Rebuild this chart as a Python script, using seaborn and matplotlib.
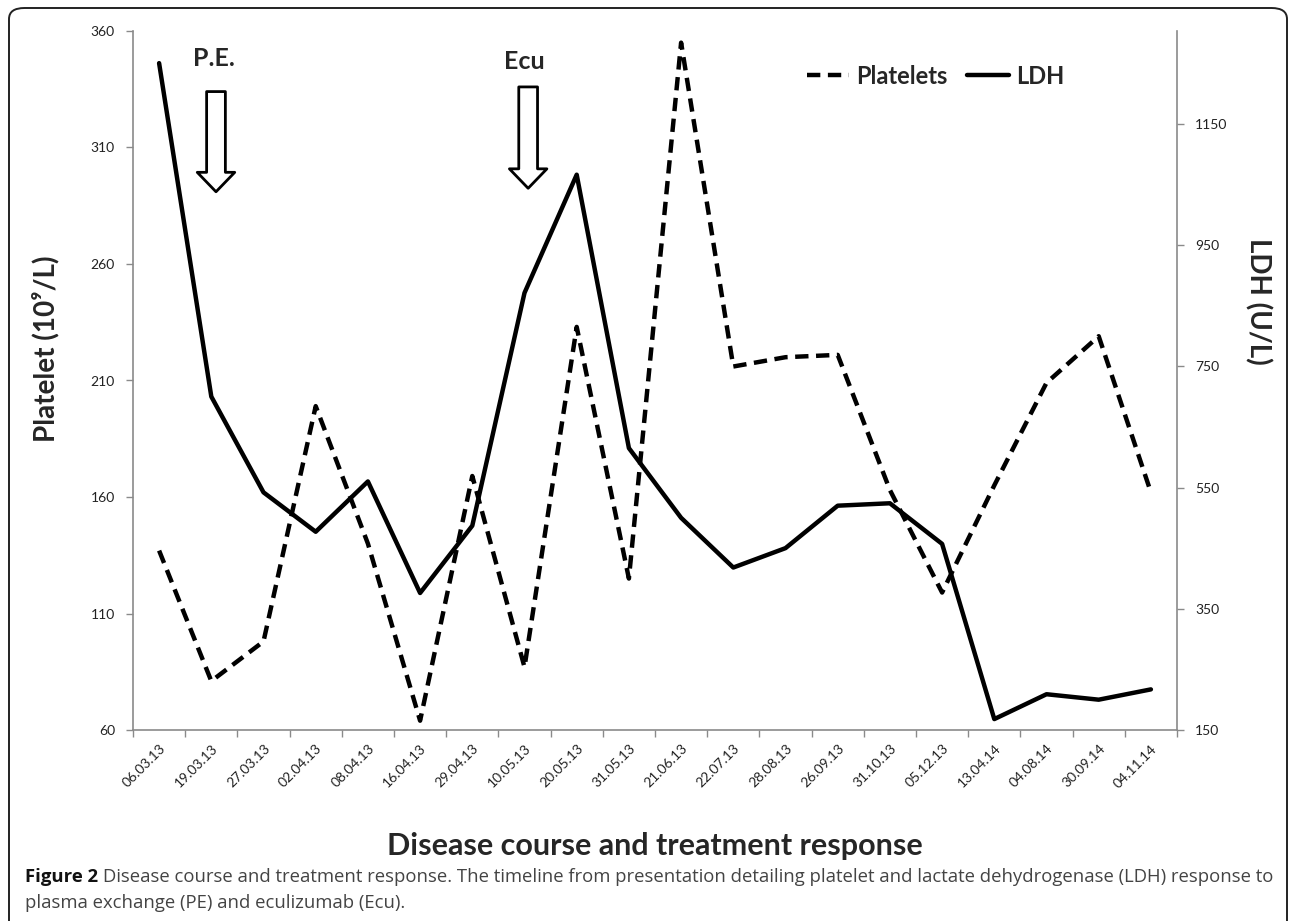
import numpy as np
import pandas as pd
import matplotlib
matplotlib.use('Agg')
import matplotlib.pyplot as plt
from matplotlib.patches import FancyBboxPatch
from matplotlib.lines import Line2D
import seaborn as sns

# data
dates = ['06.03.13', '19.03.13', '27.03.13', '02.04.13', '08.04.13', '16.04.13',
         '29.04.13', '10.05.13', '20.05.13', '31.05.13', '21.06.13', '22.07.13',
         '28.08.13', '26.09.13', '31.10.13', '05.12.13', '13.04.14', '04.08.14',
         '30.09.14', '04.11.14']
platelets = [137, 81, 98, 199, 140, 64, 169, 87, 233, 125, 355, 216,
             220, 221, 163, 119, 165, 209, 229, 162]
ldh = [1250, 700, 542, 477, 560, 376, 487, 871, 1066, 615, 500, 418,
       450, 520, 524, 457, 168, 209, 200, 217]

left_ticks = [60, 110, 160, 210, 260, 310, 360]
right_ticks = [150, 350, 550, 750, 950, 1150]

df = pd.DataFrame({'pos': np.arange(len(dates)), 'date': dates,
                   'Platelets': platelets, 'LDH': ldh})

sns.set_style('ticks')
plt.rcParams['font.family'] = ['Lato', 'DejaVu Sans']

W, H = 1292, 921
fig = plt.figure(figsize=(W / 100, H / 100), dpi=100)
ax = fig.add_axes([133 / W, 1 - 730 / H, (1177 - 133) / W, (730 - 31) / H])
ax2 = ax.twinx()

dash = (0, (3.0, 1.7))
sns.lineplot(data=df, x='pos', y='Platelets', ax=ax, color='black', lw=3.2,
             linestyle=dash, dash_capstyle='butt')
sns.lineplot(data=df, x='pos', y='LDH', ax=ax2, color='black', lw=3.2)

spine_col = '#8a8a8a'
ax.set_xlim(-0.5, len(dates) - 0.5)
ax.set_ylim(60, 360)
ax2.set_ylim(150, 1303)
ax.set_yticks(left_ticks)
ax2.set_yticks(right_ticks)

# category boundaries as major ticks, labels on minor ticks
ax.set_xticks(np.arange(-0.5, len(dates), 1.0))
ax.set_xticklabels([])
ax.set_xticks(np.arange(len(dates)), minor=True)
ax.set_xticklabels(dates, minor=True, rotation=45, ha='right', va='top',
                   rotation_mode='anchor', fontsize=10, color='#222222')
ax.tick_params(axis='x', which='minor', length=0, pad=9)
ax.tick_params(axis='x', which='major', length=5, color=spine_col, width=1)
ax.tick_params(axis='y', length=5, color=spine_col, width=1, labelsize=10,
               labelcolor='#222222', pad=8)
ax2.tick_params(axis='y', length=5, color=spine_col, width=1, labelsize=10,
                labelcolor='#222222', pad=8)

for a in (ax, ax2):
    a.spines['top'].set_visible(False)
    for s in ('left', 'right', 'bottom'):
        a.spines[s].set_color(spine_col)
        a.spines[s].set_linewidth(1.2)
ax.spines['right'].set_visible(False)
ax2.spines['left'].set_visible(False)
ax2.spines['bottom'].set_visible(False)

ax.set_xlabel('Disease course and treatment response', fontsize=22, fontweight='bold')
ax.xaxis.label.set_va('center')
ax.xaxis.set_label_coords(0.5, (730 - 846) / 699)
ax.set_ylabel('Platelet (10\u2079/L)', fontsize=20, fontweight='bold')
ax.yaxis.set_label_coords((46 - 133) / 1044, (730 - 349) / 699)
ax.yaxis.label.set_va('center')
ax2.set_ylabel('LDH (U/L)', fontsize=20, fontweight='bold', rotation=-90)
ax2.yaxis.set_label_coords((1258 - 133) / 1044, (730 - 301) / 699)
ax2.yaxis.label.set_va('center')

# treatment arrows
arrow_kw = dict(arrowstyle='simple,head_length=1.4,head_width=2.7,tail_width=1.35',
                fc='white', ec='black', lw=2, shrinkA=0, shrinkB=0,
                mutation_scale=10)
ax.annotate('', xy=(1.09, 291), xytext=(1.09, 334), arrowprops=arrow_kw)
ax.annotate('', xy=(7.07, 292.5), xytext=(7.07, 336), arrowprops=arrow_kw)
ax.text(1.05, 348, 'P.E.', fontsize=18, fontweight='bold', ha='center', va='center')
ax.text(6.99, 347, 'Ecu', fontsize=18, fontweight='bold', ha='center', va='center')

# legend
handles = [Line2D([], [], color='black', lw=3.2, linestyle=dash),
           Line2D([], [], color='black', lw=3.2)]
leg = ax.legend(handles, ['Platelets', 'LDH'], ncol=2, frameon=False,
                loc='center', bbox_to_anchor=((812 + 1059) / 2 / W, 1 - 76 / H),
                bbox_transform=fig.transFigure, handlelength=1.8,
                handletextpad=0.3, columnspacing=0.8,
                prop={'weight': 'bold', 'size': 17})

# rounded frame around the figure panel
frame = FancyBboxPatch((9 / W, -0.02), (1287 - 9) / W, 1 - 8 / H + 0.02,
                       boxstyle='round,pad=0,rounding_size=0.012',
                       transform=fig.transFigure, fc='none', ec='#222222',
                       lw=1.4, zorder=0)
fig.patches.append(frame)

# caption
cap_family = ['Open Sans', 'DejaVu Sans']
cap_size = 13.3
fig.canvas.draw()
r = fig.canvas.get_renderer()
t1 = fig.text(25 / W, 1 - 877 / H, 'Figure 2', fontsize=cap_size, fontweight='bold',
              family=cap_family, color='#111111', va='center')
bb = t1.get_window_extent(r)
fig.text(bb.x1 / W + 5 / W, 1 - 877 / H,
         'Disease course and treatment response. The timeline from presentation '
         'detailing platelet and lactate dehydrogenase (LDH) response to',
         fontsize=cap_size, family=cap_family, color='#444444', va='center')
fig.text(25 / W, 1 - 903 / H, 'plasma exchange (PE) and eculizumab (Ecu).',
         fontsize=cap_size, family=cap_family, color='#444444', va='center')

fig.savefig('out.png', dpi=100)
